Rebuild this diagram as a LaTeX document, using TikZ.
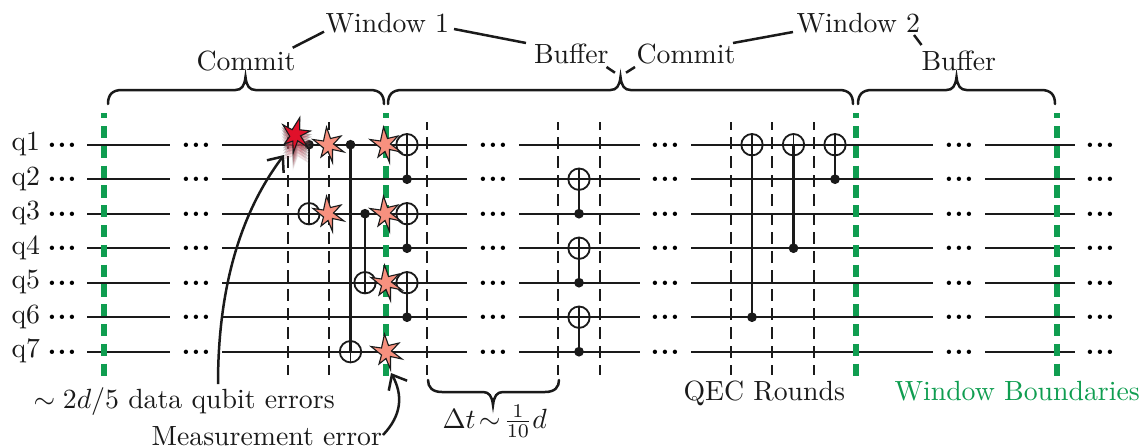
\documentclass[tikz,border=0pt]{standalone}
\usetikzlibrary{arrows.meta}
\definecolor{wingreen}{HTML}{0F9D50}
\definecolor{salmon}{HTML}{F7917F}
\definecolor{starred}{HTML}{E0102A}
\definecolor{ink}{HTML}{1A1A1A}
\tikzset{
  wire/.style={line width=0.85pt,ink},
  gateline/.style={line width=0.75pt,ink},
  rounddash/.style={line width=0.6pt,ink,dash pattern=on 4.4pt off 2.44pt,dash phase=1.44pt},
  winbound/.style={line width=1.9pt,wingreen,dash pattern=on 4.4pt off 2.73pt,dash phase=2.45pt},
  bracepath/.style={line width=0.9pt,ink,line cap=round},
  link/.style={line width=0.9pt,ink},
  pointer/.style={line width=0.9pt,ink,-{Straight Barb[length=4.5pt,width=7.5pt,line width=0.9pt]}},
  lab/.style={anchor=base west,inner sep=0pt,text=ink},
  dotslab/.style={anchor=base,inner sep=0pt,text=black},
  ctrl/.style={circle,fill=ink,inner sep=0pt,minimum size=3.5pt},
  target/.style={circle,draw=ink,line width=0.65pt,inner sep=0pt,minimum size=7.7pt},
  burst/.style={fill=salmon,draw=ink,line width=0.4pt,miter limit=12},
}
\newcommand{\starpoly}[3][]{%
  \path[shift={(#2,#3)},#1] (-1.5,-18) -- (2.5,-6.5) -- (13,-9) -- (5.5,-1) -- (16,7) -- (4.5,4.5) -- (4.5,17.5) -- (0,6.5) -- (-7,12) -- (-4.5,3) -- (-15,-5.5) -- (-4.5,-4) -- cycle;}
\newcommand{\topbrace}[4]{%
  \draw[bracepath] (#1,104) .. controls (#1,95) and (#1+4,90) .. (#1+14,90) -- (#2-10,90) .. controls (#2-4,90) and (#2-1,86) .. (#2,#4) .. controls (#2+1,86) and (#2+4,90) .. (#2+10,90) -- (#3-14,90) .. controls (#3-4,90) and (#3,95) .. (#3,104);}
\newcommand{\cnot}[4]{%
  \node[target] (t#1) at (#2,#3) {};
  \node[ctrl] (c#1) at (#2,#4) {};
  \draw[gateline] (t#1.center) -- (c#1.center);
  \draw[line width=0.65pt,ink] (t#1.west) -- (t#1.east);
  \draw[line width=0.65pt,ink] (t#1.north) -- (t#1.south);}
\begin{document}
\begin{tikzpicture}[x=0.36pt,y=-0.36pt]
\useasboundingbox (0,0) rectangle (1143,447);
% wires
\foreach \n/\y in {1/144.7,2/179.2,3/213.7,4/248.2,5/282.7,6/317.2,7/351.7}{
  \node[lab] (q\n) at (11,\y+6) {q\n};
  \foreach \a/\b in {87/170,222/467,519/640,691/933,985/1075}
    \draw[wire] (\a,\y) -- (\b,\y);
  \foreach \x in {62,196,493,665,959,1100}
    \node[dotslab] at (\x,\y+2.7) {\bfseries .\kern0.4pt.\kern0.4pt.};
}
% round separators
\foreach \x in {288,329,427,558,600,731,772,814}
  \draw[rounddash] (\x,122) -- (\x,375);
% window boundaries
\foreach \x in {104,386,856,1057}
  \draw[winbound] (\x,113) -- (\x,383);
% gates
\cnot{a}{309}{213.7}{144.7}
\cnot{b}{350.5}{351.7}{144.7}
\cnot{c}{365}{282.7}{213.7}
\cnot{d}{407}{144.7}{179.2}
\cnot{e}{407}{213.7}{248.2}
\cnot{f}{407}{282.7}{317.2}
\cnot{g}{579}{179.2}{213.7}
\cnot{h}{579}{248.2}{282.7}
\cnot{i}{579}{317.2}{351.7}
\cnot{j}{752}{144.7}{317.2}
\cnot{k}{793.5}{144.7}{248.2}
\cnot{l}{835}{144.7}{179.2}
% stars
\foreach \d/\o in {14/0.14,11/0.2,8/0.28,5/0.36,2.5/0.45}
  \starpoly[fill=starred!75!gray,fill opacity=\o,draw=gray,draw opacity=\o,line width=0.4pt,rotate=-20]{295}{136+\d};
\starpoly[fill=starred,draw=ink,line width=0.4pt,miter limit=12,rotate=-20]{295}{135}
\foreach \x/\y in {328/145,385/145,328/214,385/214,386/283,386/352}
  \starpoly[burst]{\x}{\y};
% braces
\topbrace{108}{245.5}{384}{77}
\topbrace{388}{620.5}{853}{77}
\topbrace{858}{956.5}{1055}{77}
\draw[bracepath] (428,380) .. controls (428,387) and (432,392) .. (442,392) -- (483,392) .. controls (489,392) and (492,396) .. (493,405) .. controls (494,396) and (497,392) .. (503,392) -- (545,392) .. controls (555,392) and (559,387) .. (559,380);
% labels
\node[lab] (win1) at (325,32) {Window 1};
\node[lab] (win2) at (796,32) {Window 2};
\node[lab] (com1) at (196,70) {Commit};
\node[lab] (buf1) at (533.5,63) {Buffer};
\node[lab] (com2) at (636,63) {Commit};
\node[lab] (buf2) at (921,70) {Buffer};
\coordinate (win1a) at (324,31.7);
\coordinate (com1a) at (292.7,47.7);
\coordinate (win1b) at (454,29);
\coordinate (buf1a) at (526,43);
\coordinate (win2a) at (793,32);
\coordinate (com2a) at (733,43);
\coordinate (win2b) at (914,35);
\coordinate (buf2a) at (921.5,45);
\coordinate (buf1b) at (606.5,67);
\coordinate (br2a) at (615,72.7);
\coordinate (com2b) at (635,67);
\coordinate (br2b) at (626,72.7);
\draw[link] (win1a) -- (com1a);
\draw[link] (win1b) -- (buf1a);
\draw[link] (win2a) -- (com2a);
\draw[link] (win2b) -- (buf2a);
\draw[link] (buf1b) -- (br2a);
\draw[link] (com2b) -- (br2b);
\node[lab] (errs) at (33,408) {$\sim 2d/5$ data qubit errors};
\node[lab] (meas) at (151,445) {Measurement error};
\node[lab] (dt) at (442,428) {$\Delta t\!\sim\!\frac{1}{10}d$};
\node[lab] (qec) at (683,400) {QEC Rounds};
\node[lab,text=wingreen] (wb) at (894,400) {Window Boundaries};
% pointers
\coordinate (errs0) at (218,384);
\coordinate (errs1) at (284,155);
\coordinate (meas0) at (383,435);
\coordinate (meas1) at (391,373);
\draw[pointer] (errs0) .. controls (218,300) and (235,220) .. (errs1);
\draw[pointer] (meas0) .. controls (402,415) and (403,395) .. (meas1);
\end{tikzpicture}
\end{document}
